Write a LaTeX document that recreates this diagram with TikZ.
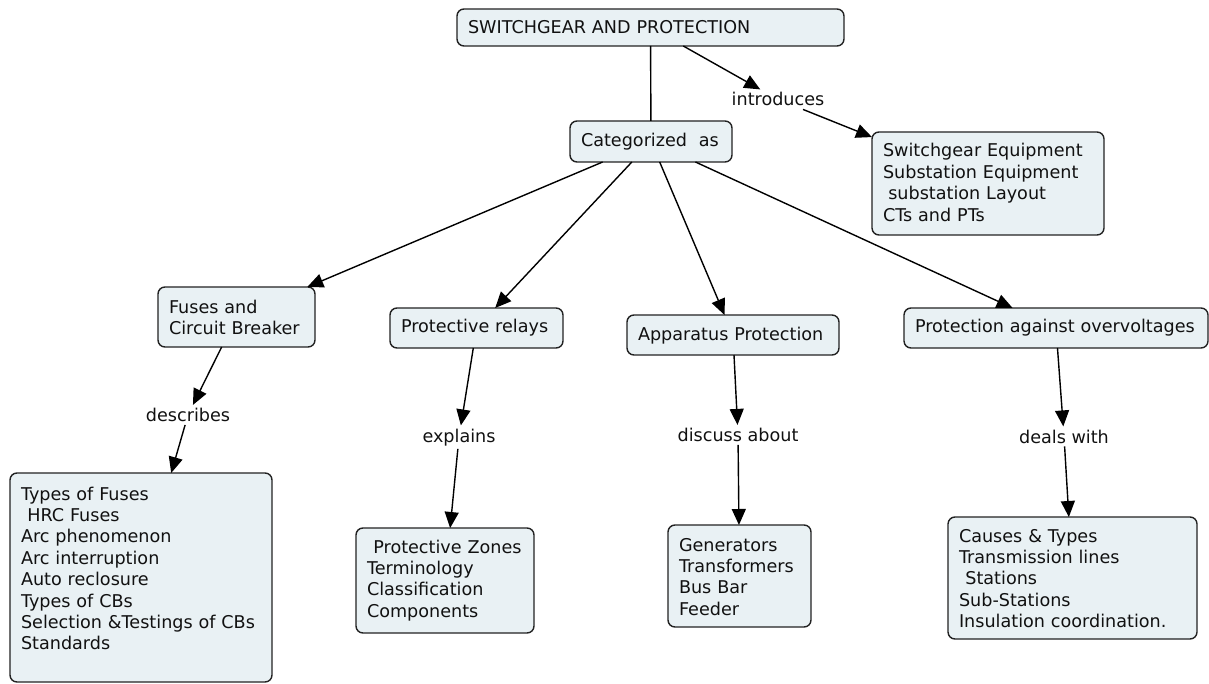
\documentclass[tikz,border=0pt]{standalone}
\usepackage{fontspec}
\setmainfont{DejaVu Sans}
\usepackage{xcolor}
\usetikzlibrary{arrows.meta}
\definecolor{cmapfill}{HTML}{E9F1F4}
\definecolor{cmapline}{HTML}{222222}
\definecolor{ink}{HTML}{111111}

\begin{document}
\begin{tikzpicture}[
  x=1pt, y=-1pt,
  font=\fontsize{17.6}{21.4}\selectfont,
  concept/.style={draw=cmapline, line width=1.4pt, fill=cmapfill, text=ink, rounded corners=7pt, anchor=north west, align=left, inner xsep=11pt, inner ysep=0pt, outer sep=0pt},
  phrase/.style={text=ink, inner sep=3pt, anchor=base},
  link/.style={-{Triangle[length=16pt,width=14pt]}, line width=1.4pt, black}
]
\useasboundingbox (0,0) rectangle (1209,684);
% concepts
\node[concept, text width=365pt, text height=25pt, text depth=12pt] (sgp) at (457,9) {SWITCHGEAR AND PROTECTION};
\node[concept, text width=140pt, text height=26pt, text depth=15pt] (cat) at (570,121) {Categorized\ \ as};
\node[concept, text width=210pt, text height=25pt, text depth=78pt] (equip) at (872,132) {Switchgear Equipment\\Substation Equipment\\\hspace*{0.3em}substation Layout\\CTs and PTs};
\node[concept, text width=135pt, text height=26pt, text depth=34pt] (fuse) at (158,287) {Fuses and\\Circuit Breaker};
\node[concept, text width=151pt, text height=25pt, text depth=15pt] (relay) at (390,308) {Protective relays};
\node[concept, text width=190pt, text height=25pt, text depth=15pt] (appar) at (627,315) {Apparatus Protection};
\node[concept, text width=282pt, text height=25pt, text depth=15pt] (overv) at (904,308) {Protection against overvoltages};
\node[concept, text width=240pt, text height=27pt, text depth=182pt] (fuselist) at (10,473) {Types of Fuses\\\hspace*{0.36em}HRC Fuses\\Arc phenomenon\\Arc interruption\\Auto reclosure\\Types of CBs\\Selection \&Testings of CBs\\Standards};
\node[concept, text width=156pt, text height=25pt, text depth=80pt] (relaylist) at (356,528) {\hspace*{0.36em}Protective Zones\\Terminology\\Classification\\Components};
\node[concept, text width=121pt, text height=26pt, text depth=76pt] (apparlist) at (668,525) {Generators\\Transformers\\Bus Bar\\Feeder};
\node[concept, text width=227pt, text height=25pt, text depth=97pt] (overvlist) at (948,517) {Causes \& Types\\Transmission lines\\\hspace*{0.36em}Stations\\Sub-Stations\\Insulation coordination.};
% linking phrases
\node[phrase] (intro) at (778,106) {introduces};
\node[phrase] (descr) at (188,421.5) {describes};
\node[phrase] (expl) at (459,442) {explains};
\node[phrase] (disc) at (738,441.5) {discuss about};
\node[phrase] (deal) at (1064,443) {deals with};
% connectors
\draw[line width=1.4pt, black] (sgp) -- (cat);
\draw[link] (sgp) -- (intro);
\draw[link] (intro) -- (equip);
\draw[link] (cat) -- (fuse);
\draw[link] (cat) -- (relay);
\draw[link] (cat) -- (appar);
\draw[link] (cat) -- (overv);
\draw[link] (fuse) -- (descr);
\draw[link] (descr) -- (fuselist);
\draw[link] (relay) -- (expl);
\draw[link] (expl) -- (relaylist);
\draw[link] (appar) -- (disc);
\draw[link] (disc) -- (apparlist);
\draw[link] (overv) -- (deal);
\draw[link] (deal) -- (overvlist);
\end{tikzpicture}
\end{document}
